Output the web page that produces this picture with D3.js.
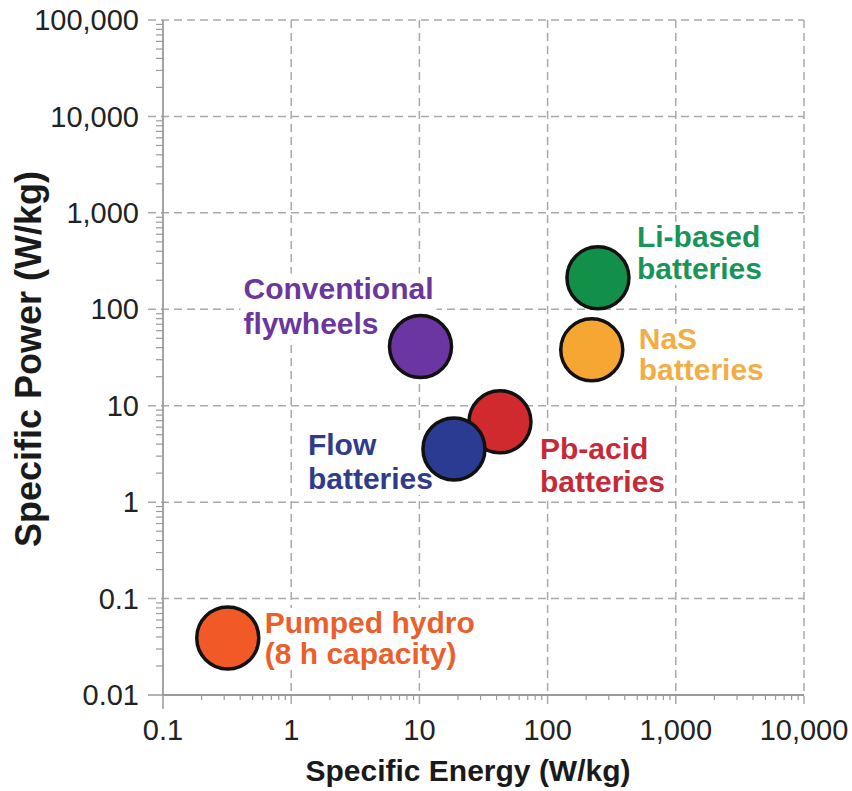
<!DOCTYPE html>
<html>
<head>
<meta charset="utf-8">
<script src="https://cdn.jsdelivr.net/npm/d3@7"></script>
<style>
  html, body { margin: 0; padding: 0; background: #fff; }
  svg { display: block; font-family: "Liberation Sans", Arial, Helvetica, sans-serif; }
</style>
</head>
<body>
<svg id="chart" width="852" height="791"></svg>
<script>
// ---- data ----
const technologies = ["Pumped hydro", "Conventional flywheels", "Pb-acid batteries", "Flow batteries", "NaS batteries", "Li-based batteries"];
const specificEnergy = [0.32, 10.2, 42.5, 18.6, 221, 247];     // W/kg (x)
const specificPower  = [0.039, 41, 6.8, 3.56, 38, 212];         // W/kg (y)
const labelLines = [
  ["Pumped hydro", "(8 h capacity)"],
  ["Conventional", "flywheels"],
  ["Pb-acid", "batteries"],
  ["Flow", "batteries"],
  ["NaS", "batteries"],
  ["Li-based", "batteries"]
];
const xTickValues = [0.1, 1, 10, 100, 1000, 10000];
const xTickLabels = ["0.1", "1", "10", "100", "1,000", "10,000"];
const yTickValues = [0.01, 0.1, 1, 10, 100, 1000, 10000, 100000];
const yTickLabels = ["0.01", "0.1", "1", "10", "100", "1,000", "10,000", "100,000"];
const xTitle = "Specific Energy (W/kg)";
const yTitle = "Specific Power (W/kg)";

// ---- styles / layout ----
const circleFill = ["#f15a26", "#6b35a2", "#d12a2e", "#2b3b92", "#f6a733", "#12904a"];
const textFill   = ["#ea5f2c", "#6a379e", "#c62a38", "#2f3c8c", "#f2ad45", "#18945a"];
// label offsets from circle centre: [dx, dy of first baseline, line height]
const labelLayout = [
  [37, -5, 31],
  [-177, -48, 35],
  [40, 37, 33],
  [-146, 6, 34],
  [47, -1, 31],
  [39, -31, 32]
];

const svg = d3.select("#chart");
const x = d3.scaleLog().domain([0.1, 10000]).range([163, 804]);
const y = d3.scaleLog().domain([0.01, 100000]).range([695, 20]);
const gridColor = "#a9a9a9";
const axisColor = "#9a9a9a";

// grid lines (dashed)
const grid = svg.append("g");
grid.selectAll("line.hg").data(yTickValues.slice(1)).join("line")
  .attr("x1", 148).attr("x2", x.range()[1])
  .attr("y1", d => y(d)).attr("y2", d => y(d))
  .attr("stroke", gridColor).attr("stroke-width", 1.5).attr("stroke-dasharray", "8,5");
grid.selectAll("line.vg").data(xTickValues.slice(1)).join("line")
  .attr("x1", d => x(d)).attr("x2", d => x(d))
  .attr("y1", y.range()[1]).attr("y2", 709)
  .attr("stroke", gridColor).attr("stroke-width", 1.5).attr("stroke-dasharray", "8,5");

// minor ticks
function minors(domain) {
  const out = [];
  for (let p = Math.log10(domain[0]); p < Math.log10(domain[1]); p++) {
    for (let m = 2; m <= 9; m++) out.push(m * Math.pow(10, p));
  }
  return out;
}
const axes = svg.append("g");
axes.selectAll("line.xm").data(minors(x.domain())).join("line")
  .attr("x1", d => x(d)).attr("x2", d => x(d))
  .attr("y1", y.range()[0]).attr("y2", y.range()[0] + 5)
  .attr("stroke", axisColor).attr("stroke-width", 1.2);
axes.selectAll("line.ym").data(minors(y.domain())).join("line")
  .attr("x1", x.range()[0] - 7).attr("x2", x.range()[0])
  .attr("y1", d => y(d)).attr("y2", d => y(d))
  .attr("stroke", axisColor).attr("stroke-width", 1.2);
// major ticks at axes origin
axes.append("line").attr("x1", x(0.1)).attr("x2", x(0.1)).attr("y1", y.range()[0]).attr("y2", 709)
  .attr("stroke", axisColor).attr("stroke-width", 1.5);
axes.append("line").attr("x1", 148).attr("x2", x.range()[0]).attr("y1", y(0.01)).attr("y2", y(0.01))
  .attr("stroke", axisColor).attr("stroke-width", 1.5);
// axis lines
axes.append("line").attr("x1", x.range()[0]).attr("x2", x.range()[1]).attr("y1", y.range()[0]).attr("y2", y.range()[0])
  .attr("stroke", axisColor).attr("stroke-width", 1.8);
axes.append("line").attr("x1", x.range()[0]).attr("x2", x.range()[0]).attr("y1", y.range()[0]).attr("y2", y.range()[1])
  .attr("stroke", axisColor).attr("stroke-width", 1.8);

// tick labels
svg.append("g").selectAll("text").data(xTickValues).join("text")
  .attr("x", d => x(d)).attr("y", 740)
  .attr("text-anchor", "middle").attr("font-size", 29).attr("fill", "#222")
  .text((d, i) => xTickLabels[i]);
svg.append("g").selectAll("text").data(yTickValues).join("text")
  .attr("x", 139).attr("y", d => y(d)).attr("dy", "0.35em")
  .attr("text-anchor", "end").attr("font-size", 29).attr("fill", "#222")
  .text((d, i) => yTickLabels[i]);

// axis titles
svg.append("text").attr("x", 468).attr("y", 781).attr("text-anchor", "middle")
  .attr("font-size", 30).attr("font-weight", "bold").attr("fill", "#1a1a1a").text(xTitle);
svg.append("text").attr("transform", "translate(41,359) rotate(-90)").attr("text-anchor", "middle")
  .attr("font-size", 36).attr("font-weight", "bold").attr("fill", "#1a1a1a").text(yTitle);

// labels with white background
const labels = svg.append("g");
technologies.forEach((t, i) => {
  const cx = x(specificEnergy[i]), cy = y(specificPower[i]);
  const [dx, dy, lh] = labelLayout[i];
  const g = labels.append("g");
  const bg = g.append("rect").attr("fill", "#fff");
  const txt = g.append("text").attr("font-size", 30).attr("font-weight", "bold").attr("fill", textFill[i]);
  labelLines[i].forEach((line, j) => {
    txt.append("tspan").attr("x", cx + dx).attr("y", cy + dy + j * lh).text(line);
  });
  const bb = txt.node().getBBox();
  bg.attr("x", bb.x - 3).attr("y", bb.y + 2).attr("width", bb.width + 6).attr("height", bb.height - 2);
});

// circles
svg.append("g").selectAll("circle").data(technologies).join("circle")
  .attr("cx", (d, i) => x(specificEnergy[i]))
  .attr("cy", (d, i) => y(specificPower[i]))
  .attr("r", 31)
  .attr("fill", (d, i) => circleFill[i])
  .attr("stroke", "#111").attr("stroke-width", 3.5);
</script>
</body>
</html>
